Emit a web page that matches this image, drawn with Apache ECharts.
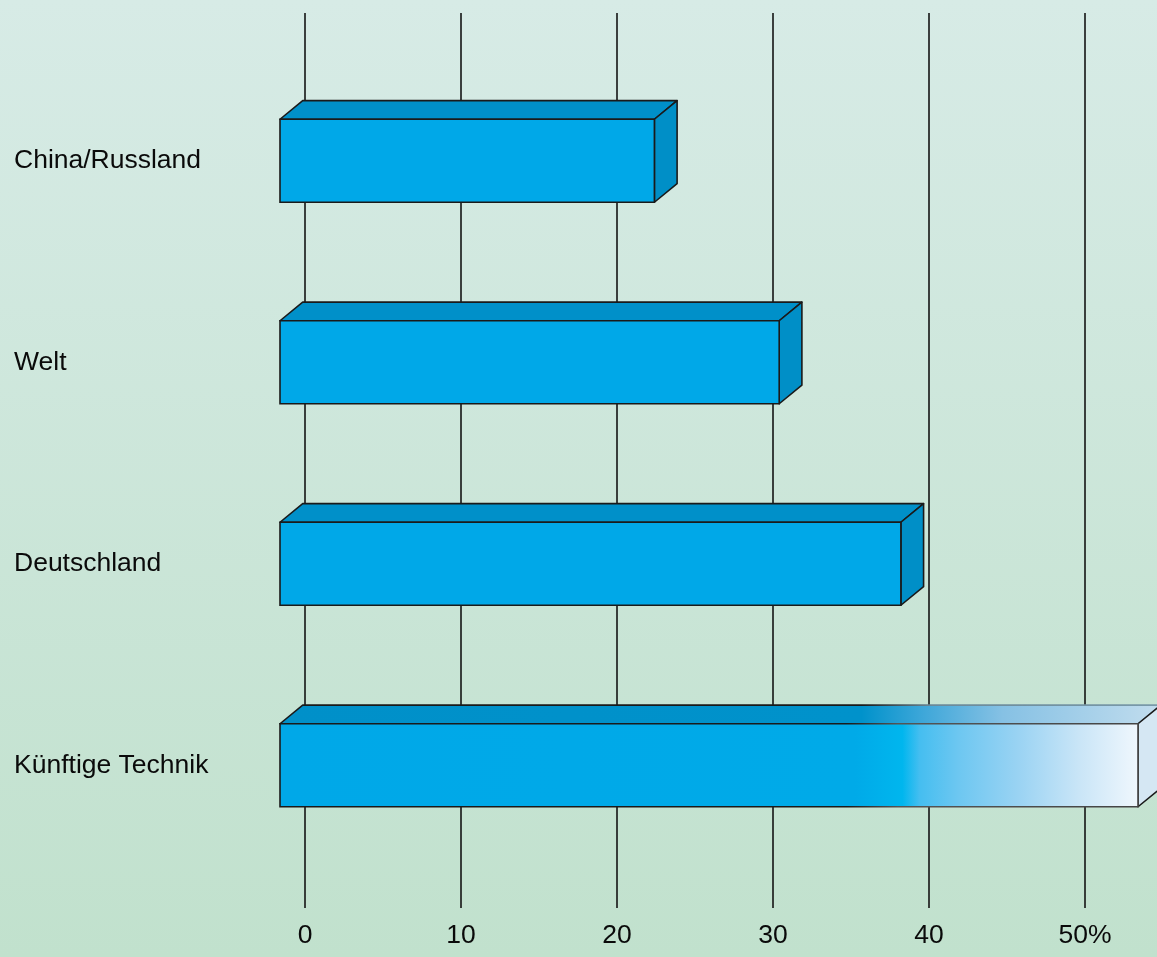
<!DOCTYPE html>
<html>
<head>
<meta charset="utf-8">
<script src="https://cdn.jsdelivr.net/npm/echarts@6/dist/echarts.min.js"></script>
<style>
  html, body { margin: 0; padding: 0; }
  #chart { width: 1157px; height: 957px; }
</style>
</head>
<body>
<div id="chart"></div>
<script>
// Categories, top to bottom
const categories = ['China/Russland', 'Welt', 'Deutschland', 'Künftige Technik'];
// Share in percent
const values = [24, 32, 39.8, 55];
// Tick labels along the value axis
const tickLabels = ['0', '10', '20', '30', '40', '50%'];
const tickValues = [0, 10, 20, 30, 40, 50];

const FONT = '"Liberation Sans", Arial, sans-serif';

// 3D extrusion of each bar: depth goes back to the right and up
const DEPTH_X = 22.7;
const DEPTH_Y = -18.6;
const BAR_H = 83;
const FRONT_SHIFT = -25;

const chart = echarts.init(document.getElementById('chart'), null, { renderer: 'canvas' });

function faceStyles(isFuture) {
  if (!isFuture) {
    return {
      front: '#00a8e8',
      top: '#0090c9',
      side: '#008fc7',
      stroke: '#1a1a1a',
      topStroke: '#1a1a1a'
    };
  }
  return {
    front: new echarts.graphic.LinearGradient(0, 0, 1, 0, [
      { offset: 0, color: '#00a8e8' },
      { offset: 0.67, color: '#00aae8' },
      { offset: 0.725, color: '#00b6ee' },
      { offset: 0.745, color: '#45bef0' },
      { offset: 0.79, color: '#6dc7f1' },
      { offset: 0.86, color: '#9ad3f3' },
      { offset: 0.93, color: '#c9e5f7' },
      { offset: 1, color: '#f0f7fd' }
    ]),
    top: new echarts.graphic.LinearGradient(0, 0, 1, 0, [
      { offset: 0, color: '#0090c9' },
      { offset: 0.66, color: '#0092cb' },
      { offset: 0.73, color: '#3ea7d9' },
      { offset: 0.82, color: '#86c1e4' },
      { offset: 1, color: '#c2ddee' }
    ]),
    side: '#d5e7f3',
    stroke: new echarts.graphic.LinearGradient(0, 0, 1, 0, [
      { offset: 0, color: '#1a1a1a' },
      { offset: 0.66, color: '#1a1a1a' },
      { offset: 0.72, color: '#555555' },
      { offset: 1, color: '#444444' }
    ]),
    topStroke: new echarts.graphic.LinearGradient(0, 0, 1, 0, [
      { offset: 0, color: '#1a1a1a' },
      { offset: 0.66, color: '#1a1a1a' },
      { offset: 0.74, color: '#6a8a9a' },
      { offset: 1, color: '#7a9aaa' }
    ])
  };
}

function renderBar(params, api) {
  const idx = api.value(1);
  const val = api.value(0);
  const p0 = api.coord([0, idx]);
  const p1 = api.coord([val, idx]);
  const x = p0[0] + FRONT_SHIFT;
  const y = p0[1] - BAR_H / 2;
  const w = p1[0] - p0[0];
  const h = BAR_H;
  const s = faceStyles(idx === categories.length - 1);
  const lw = 1.6;
  return {
    type: 'group',
    children: [
      {
        type: 'polygon',
        shape: { points: [[x, y], [x + DEPTH_X, y + DEPTH_Y], [x + w + DEPTH_X, y + DEPTH_Y], [x + w, y]] },
        style: { fill: s.top, stroke: s.topStroke, lineWidth: lw, lineJoin: 'round' }
      },
      {
        type: 'polygon',
        shape: { points: [[x + w, y], [x + w + DEPTH_X, y + DEPTH_Y], [x + w + DEPTH_X, y + h + DEPTH_Y], [x + w, y + h]] },
        style: { fill: s.side, stroke: '#1a1a1a', lineWidth: lw, lineJoin: 'round' }
      },
      {
        type: 'rect',
        shape: { x: x, y: y, width: w, height: h },
        style: { fill: s.front, stroke: s.stroke, lineWidth: lw }
      }
    ]
  };
}

const option = {
  animation: false,
  backgroundColor: new echarts.graphic.LinearGradient(0, 0, 0, 1, [
    { offset: 0, color: '#d7ebe6' },
    { offset: 1, color: '#c1e1cd' }
  ]),
  grid: [
    // Grid lines and value labels
    { left: 305, right: 72, top: 13, bottom: 49 },
    // Bars and category labels
    { left: 305, right: 72, top: 60, bottom: 91 }
  ],
  xAxis: [
    {
      gridIndex: 0,
      type: 'value',
      min: 0,
      max: 50,
      interval: 10,
      axisLine: { show: false },
      axisTick: { show: false },
      splitLine: { show: true, lineStyle: { color: '#141414', width: 1.6 } },
      axisLabel: {
        margin: 14,
        fontFamily: FONT,
        fontSize: 26.5,
        color: '#0a0a0a',
        formatter: function (v) {
          const i = tickValues.indexOf(v);
          return i >= 0 ? tickLabels[i] : '';
        }
      }
    },
    {
      gridIndex: 1,
      type: 'value',
      min: 0,
      max: 50,
      show: false
    }
  ],
  yAxis: [
    {
      gridIndex: 0,
      type: 'value',
      show: false
    },
    {
      gridIndex: 1,
      type: 'category',
      inverse: true,
      data: categories,
      axisLine: { show: false },
      axisTick: { show: false },
      splitLine: { show: false },
      axisLabel: {
        align: 'left',
        margin: 291,
        fontFamily: FONT,
        fontSize: 26.5,
        color: '#0a0a0a'
      }
    }
  ],
  series: [
    {
      type: 'custom',
      xAxisIndex: 1,
      yAxisIndex: 1,
      clip: false,
      z: 5,
      renderItem: renderBar,
      encode: { x: 0, y: 1 },
      data: values.map(function (v, i) { return [v, i]; })
    }
  ]
};

chart.setOption(option);
</script>
</body>
</html>
